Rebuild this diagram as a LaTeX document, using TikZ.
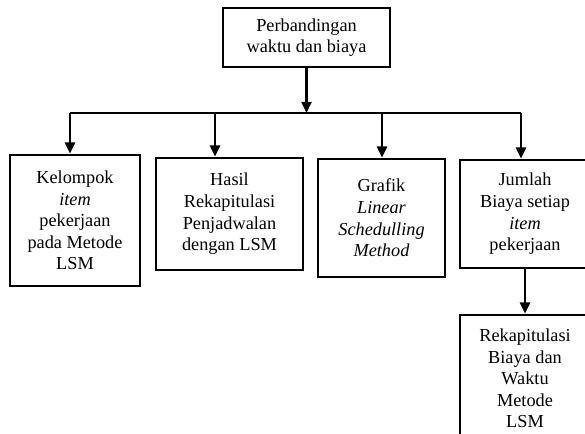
\documentclass[tikz,border=0pt]{standalone}
\usepackage{fontspec}
\setmainfont{Liberation Serif}
\usetikzlibrary{arrows.meta,positioning}
\tikzset{
    kotak/.style={draw, line width=1.55pt, align=center, inner sep=0pt,
        font=\fontsize{10.4}{12.3}\selectfont},
    garis/.style={line width=1.2pt},
    panah/.style={garis, -{Triangle[width=5.8pt,length=6.4pt]}}
}
\begin{document}
\begin{tikzpicture}
    \useasboundingbox (0,0) rectangle (11.7,-8.66);
    \clip (0,0) rectangle (11.7,-8.66);
    \node[kotak, minimum width=3.34cm, minimum height=1.18cm] (judul) at (6.13,-0.75)
        {Perbandingan\\waktu dan biaya};
    \node[kotak, minimum width=2.6cm, minimum height=2.62cm] (kelompok) at (1.5,-4.41)
        {Kelompok\\\textit{item}\\pekerjaan\\pada Metode\\LSM};
    \node[kotak, minimum width=2.94cm, minimum height=2.24cm] (hasil) at (4.59,-4.28)
        {Hasil\\Rekapitulasi\\Penjadwalan\\dengan LSM};
    \node[kotak, minimum width=2.54cm, minimum height=2.36cm] (grafik) at (7.63,-4.36)
        {Grafik\\\textit{Linear}\\\textit{Schedulling}\\\textit{Method}};
    \node[kotak, minimum width=2.6cm, minimum height=2.16cm] (jumlah) at (10.5,-4.28)
        {Jumlah\\Biaya setiap\\\textit{item}\\pekerjaan};
    \node[kotak, minimum width=2.6cm, minimum height=2.54cm] (rekap) at (10.5,-7.57)
        {Rekapitulasi\\Biaya dan\\Waktu\\Metode\\LSM};
    \coordinate (t1) at (1.4,-2.26);
    \coordinate (t2) at (4.3,-2.26);
    \coordinate (t3) at (7.64,-2.26);
    \coordinate (t4) at (10.42,-2.26);
    \draw[garis] (t1) -- (t4);
    \draw[panah] (judul.south) -- (judul.south |- t1);
    \draw[panah] (t1) -- (t1 |- kelompok.north);
    \draw[panah] (t2) -- (t2 |- hasil.north);
    \draw[panah] (t3) -- (t3 |- grafik.north);
    \draw[panah] (t4) -- (t4 |- jumlah.north);
    \draw[panah] (jumlah.south) -- (rekap.north);
\end{tikzpicture}
\end{document}
